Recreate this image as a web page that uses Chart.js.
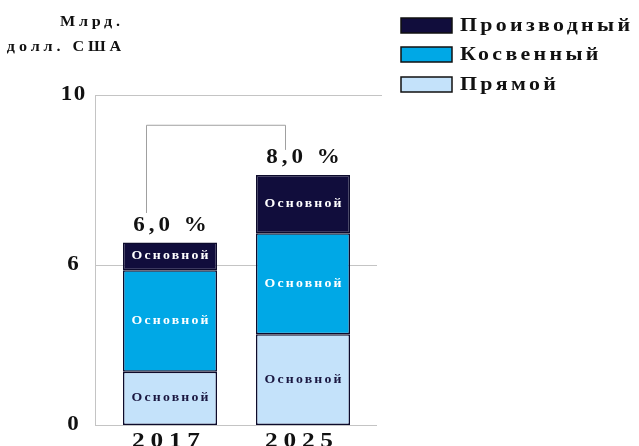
<!DOCTYPE html>
<html>
<head>
<meta charset="utf-8">
<script src="https://cdn.jsdelivr.net/npm/chart.js@4.4.1/dist/chart.umd.min.js"></script>
<style>
  html, body { margin: 0; padding: 0; background: #fff; }
  #wrap { width: 639px; height: 446px; }
</style>
</head>
<body>
<div id="wrap"><canvas id="chart" width="639" height="446"></canvas></div>
<script>
// данные
const years = ['2017', '2025'];
const seriesNames = ['Прямой', 'Косвенный', 'Производный'];
const directValues = [2.0, 3.4];
const indirectValues = [3.8, 3.35];
const derivedValues = [0.73, 1.37];
const growthLabels = ['6,0 %', '8,0 %'];
const segmentLabel = 'Основной';
const yTicks = [0, 6, 10];
const yTitle = ['Млрд.', 'долл. США'];

const colors = ['#c4e2fa', '#00a8e6', '#110d3c'];
const segTextColors = ['#1a1740', '#ffffff', '#ffffff'];
const SERIF = '"Liberation Serif", "DejaVu Serif", serif';

// шкала с изломом на 6 (как на исходном рисунке)
class PiecewiseScale extends Chart.LinearScale {
  getPixelForValue(value) {
    const brk = 6, frac = 160 / 330;
    const max = this.max;
    let f;
    if (value <= brk) f = (value / brk) * frac;
    else f = frac + (value - brk) / (max - brk) * (1 - frac);
    return this.bottom - f * (this.bottom - this.top);
  }
  getValueForPixel(pixel) {
    const brk = 6, frac = 160 / 330;
    const f = (this.bottom - pixel) / (this.bottom - this.top);
    if (f <= frac) return f / frac * brk;
    return brk + (f - frac) / (1 - frac) * (this.max - brk);
  }
}
PiecewiseScale.id = 'piecewise';
PiecewiseScale.defaults = Chart.LinearScale.defaults;
Chart.register(PiecewiseScale);

// текст с разрядкой и растяжкой по горизонтали
function spacedText(ctx, text, x, y, spacing, align, stretch) {
  stretch = stretch || 1;
  ctx.letterSpacing = spacing + 'px';
  const w = (ctx.measureText(text).width - spacing) * stretch;
  let sx = x;
  if (align === 'center') sx = x - w / 2;
  else if (align === 'right') sx = x - w;
  ctx.save();
  ctx.textAlign = 'left';
  ctx.translate(sx, y);
  ctx.scale(stretch, 1);
  ctx.fillText(text, 0, 0);
  ctx.restore();
  ctx.letterSpacing = '0px';
}

// сетка и ось чуть шире области столбцов
const gridPlugin = {
  id: 'grid',
  beforeDatasetsDraw(chart) {
    const ctx = chart.ctx;
    const ys = chart.scales.y;
    ctx.save();
    ctx.strokeStyle = '#c4c4c4';
    ctx.lineWidth = 1;
    ctx.beginPath();
    ys.ticks.forEach(t => {
      const py = Math.round(ys.getPixelForValue(t.value)) + 0.5;
      ctx.moveTo(95, py);
      ctx.lineTo(t.value === 10 ? 382 : 377, py);
    });
    ctx.moveTo(95.5, Math.round(ys.getPixelForValue(10)));
    ctx.lineTo(95.5, Math.round(ys.getPixelForValue(0)) + 1);
    ctx.stroke();
    ctx.restore();
  }
};

const decorPlugin = {
  id: 'decor',
  afterDatasetsDraw(chart) {
    const ctx = chart.ctx;
    const ys = chart.scales.y;
    ctx.save();
    ctx.textBaseline = 'middle';

    // подписи сегментов
    chart.data.datasets.forEach((ds, di) => {
      const meta = chart.getDatasetMeta(di);
      meta.data.forEach(bar => {
        ctx.fillStyle = segTextColors[di];
        ctx.font = 'bold 12px ' + SERIF;
        spacedText(ctx, segmentLabel, bar.x, (bar.y + bar.base) / 2, 1.9, 'center', 1.15);
      });
    });

    // соединительная линия
    const topMeta = chart.getDatasetMeta(2);
    const b0 = topMeta.data[0], b1 = topMeta.data[1];
    ctx.strokeStyle = '#a0a0a0';
    ctx.lineWidth = 1;
    ctx.beginPath();
    ctx.moveTo(b0.x - 23.5, b0.y - 29.5);
    ctx.lineTo(b0.x - 23.5, ys.getPixelForValue(9.3) + 0.5);
    ctx.lineTo(b1.x - 17.5, ys.getPixelForValue(9.3) + 0.5);
    ctx.lineTo(b1.x - 17.5, b1.y - 25);
    ctx.stroke();

    // проценты
    ctx.fillStyle = '#111';
    ctx.font = 'bold 20px ' + SERIF;
    topMeta.data.forEach((bar, i) => {
      spacedText(ctx, growthLabels[i], bar.x, bar.y - 17, 3.5, 'center', 1.15);
    });

    // подписи оси Y
    ctx.font = 'bold 20px ' + SERIF;
    yTicks.forEach(v => {
      spacedText(ctx, String(v), 73, ys.getPixelForValue(v), 1.5, 'center', 1.15);
    });

    // подписи оси X
    ctx.font = 'bold 22px ' + SERIF;
    years.forEach((y, i) => {
      const bar = topMeta.data[i];
      spacedText(ctx, y, bar.x - 4, 441, 5, 'center', 1.15);
    });

    // заголовок оси Y
    ctx.font = 'bold 14px ' + SERIF;
    spacedText(ctx, yTitle[0], 90, 22, 3.2, 'center', 1.15);
    spacedText(ctx, yTitle[1], 64, 47, 3.4, 'center', 1.15);

    // легенда
    const order = [2, 1, 0];
    const rowY = [25, 54, 84];
    order.forEach((di, r) => {
      ctx.fillStyle = colors[di];
      ctx.fillRect(401, rowY[r] - 7, 51, 15);
      ctx.strokeStyle = '#111';
      ctx.lineWidth = 1.5;
      ctx.strokeRect(401, rowY[r] - 7, 51, 15);
      ctx.fillStyle = '#111';
      ctx.font = 'bold 19px ' + SERIF;
      spacedText(ctx, seriesNames[di], 460, rowY[r] + 1, 2.9, 'left', 1.15);
    });

    ctx.restore();
  }
};

const datasets = [directValues, indirectValues, derivedValues].map((vals, i) => ({
  label: seriesNames[i],
  data: vals,
  backgroundColor: colors[i],
  borderColor: '#0d0b2c',
  borderWidth: 1.5,
  borderSkipped: false,
  categoryPercentage: 1,
  barPercentage: 0.707
}));

new Chart(document.getElementById('chart'), {
  type: 'bar',
  data: { labels: years, datasets: datasets },
  plugins: [gridPlugin, decorPlugin],
  options: {
    responsive: false,
    animation: false,
    layout: { padding: { left: 103.5, right: 269.5, top: 95, bottom: 21 } },
    plugins: { legend: { display: false }, tooltip: { enabled: false } },
    scales: {
      x: {
        stacked: true,
        ticks: { display: false },
        grid: { display: false, drawTicks: false },
        border: { display: false }
      },
      y: {
        type: 'piecewise',
        stacked: true,
        min: 0,
        max: 10,
        afterBuildTicks: scale => { scale.ticks = yTicks.map(v => ({ value: v })); },
        ticks: { display: false },
        grid: { display: false, drawTicks: false },
        border: { display: false }
      }
    }
  }
});
</script>
</body>
</html>
